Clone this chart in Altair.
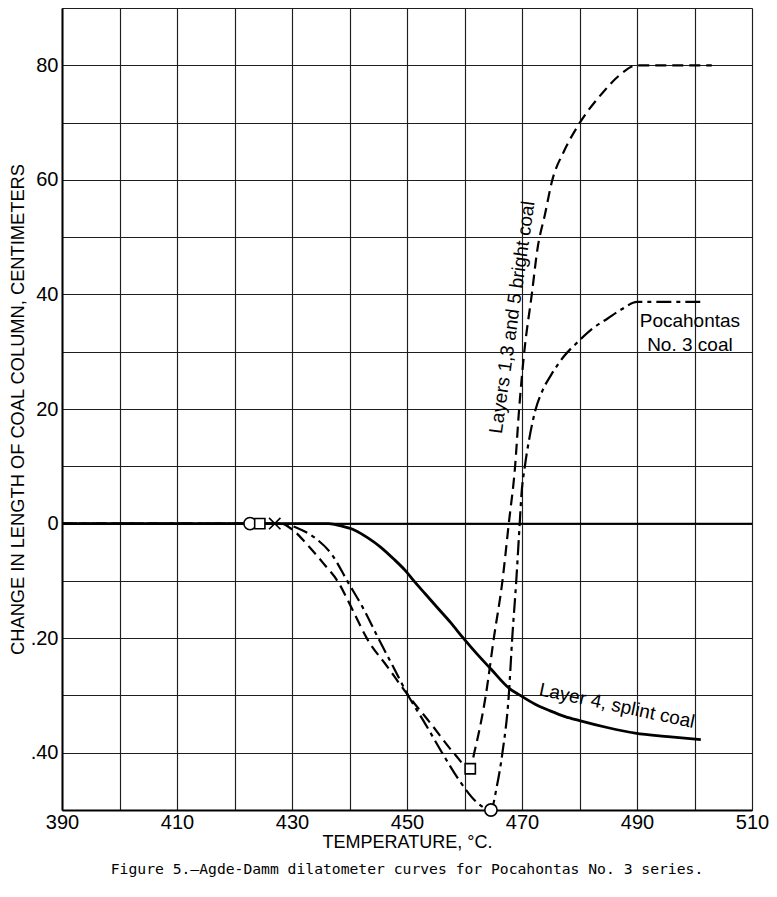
import altair as alt
import pandas as pd

# ---------------- data ----------------
# Layer 4, splint coal (solid)
l4_temp = [390, 436.4, 438.5, 441, 443.2, 445.4, 447.6, 449.8, 451.2, 453.2, 455.3, 457.6,
           459.8, 462.2, 464.6, 467.7, 469.7, 472.2, 474.9, 477.5, 480, 484.8, 489.7, 495.4, 501.1]
l4_change = [0, 0, -0.004, -0.012, -0.025, -0.041, -0.061, -0.083, -0.1, -0.123, -0.147, -0.173,
             -0.2, -0.228, -0.254, -0.287, -0.3, -0.315, -0.327, -0.337, -0.344, -0.356, -0.366, -0.372, -0.377]

# Layers 1,3 and 5 bright coal (dashed)
br_temp = [390, 428, 430, 432.5, 435.5, 437.9, 440.5, 443, 446.6, 450.2, 454.2, 458.1, 461,
           461.7, 463.7, 465.1, 466.6, 467.7, 468.8, 469.5, 470.4, 471.7, 472.7, 474, 475.2,
           477.3, 479.7, 484.1, 487, 490, 503]
br_change = [0, 0, -0.01, -0.035, -0.07, -0.1, -0.15, -0.2, -0.25, -0.3, -0.35, -0.4, -0.428,
             -0.4, -0.3, -0.2, -0.1, 0, 10, 20, 30, 40, 48, 54, 59.7,
             65, 69.4, 75.3, 78.3, 80, 80]

# Pocahontas No. 3 coal (dash-dot)
po_temp = [390, 428, 431, 434, 437, 439.6, 442.5, 445, 447.6, 450.2, 453.2, 456.1, 459.2, 462.3,
           464.6, 465.6, 466.6, 467.7, 468.3, 469, 469.6, 469.9, 470.5, 471.3, 472.3, 473.6,
           475.1, 477.3, 479.7, 482.2, 484.9, 487.5, 490, 501]
po_change = [0, 0, -0.008, -0.025, -0.055, -0.1, -0.15, -0.2, -0.25, -0.3, -0.35, -0.4, -0.45, -0.488,
             -0.5, -0.46, -0.4, -0.3, -0.2, -0.1, 0, 5, 10, 15, 19.7, 23.3,
             26, 29.2, 31.7, 34, 35.8, 37.5, 38.7, 38.7]

# point markers
mk_temp = [422.7, 424.4, 427.0, 461.0, 464.6]
mk_change = [0, 0, 0, -0.428, -0.5]
mk_shape = ["circle", "square", "M-1,-1L1,1M1,-1L-1,1", "square", "circle"]
mk_size = [150, 105, 130, 105, 150]

# axes
x_grid = [390, 400, 410, 420, 430, 440, 450, 460, 470, 480, 490, 500, 510]
x_labels = [390, 410, 430, 450, 470, 490, 510]
y_grid = [-0.5, -0.4, -0.3, -0.2, -0.1, 0, 10, 20, 30, 40, 50, 60, 70, 80, 90]
y_label_values = [80, 60, 40, 20, 0, -0.2, -0.4]
y_label_texts = ["80", "60", "40", "20", "0", ".20", ".40"]

# annotations
lab_l4 = {"t": [486.5], "v": [-0.318], "text": ["Layer 4, splint coal"]}
lab_br = {"t": [468.3], "v": [36.0], "text": ["Layers 1,3 and 5 bright coal"]}
lab_po = {"t": [499.2, 499.2], "v": [35.3, 31.2], "text": ["Pocahontas", "No. 3 coal"]}

caption = "Figure 5.\u2014Agde-Damm dilatometer curves for Pocahontas No. 3 series."

# ---------------- chart ----------------
W, H = 690, 802
FONT = "Liberation Sans"

y_label_expr = " : ".join(
    f"datum.value == {v} ? '{t}'" for v, t in zip(y_label_values, y_label_texts)
) + " : ''"
x_label_expr = " || ".join(f"datum.value == {v}" for v in x_labels) + " ? datum.label : ''"

xscale = alt.Scale(domain=[390, 510], nice=False, zero=False)
yscale = alt.Scale(domain=[-0.5, 0, 90], range=[H, H * 9 / 14, 0], nice=False, zero=False)

xaxis = alt.Axis(values=x_grid, labelExpr=x_label_expr, format="d", grid=True,
                 gridColor="#1e1e1e", gridWidth=1.15, gridOpacity=1, tickSize=0, labelPadding=2,
                 labelFont=FONT, labelFontSize=20, labelColor="black", labelFlush=False,
                 title="TEMPERATURE, \u00b0C.", titleFont=FONT, titleFontSize=18,
                 titleFontWeight="normal", titleColor="black", titlePadding=1,
                 domainColor="black", domainWidth=2)
yaxis = alt.Axis(values=y_grid, labelExpr=y_label_expr, grid=True,
                 gridColor="#1e1e1e", gridWidth=1.15, gridOpacity=1, tickSize=0, labelPadding=4,
                 labelFont=FONT, labelFontSize=20, labelColor="black", labelFlush=False,
                 title="CHANGE IN LENGTH OF COAL COLUMN, CENTIMETERS", titleFont=FONT,
                 titleFontSize=18.3, titleFontWeight="normal", titleColor="black", titlePadding=3,
                 domainColor="black", domainWidth=2)

l4_df = pd.DataFrame({"t": l4_temp, "v": l4_change})
br_df = pd.DataFrame({"t": br_temp, "v": br_change})
po_df = pd.DataFrame({"t": po_temp, "v": po_change})
mk_df = pd.DataFrame({"t": mk_temp, "v": mk_change, "shape": mk_shape, "size": mk_size})
zero_df = pd.DataFrame({"v": [0]})

grid_layer = alt.Chart(zero_df).mark_rule(color="black", strokeWidth=1.8).encode(
    y=alt.Y("v:Q", scale=yscale, axis=yaxis)
)

def xy():
    return dict(x=alt.X("t:Q", scale=xscale, axis=xaxis), y=alt.Y("v:Q", scale=yscale, axis=yaxis))

line_po = alt.Chart(po_df).mark_line(color="black", strokeWidth=2.2, strokeDash=[15, 5, 4, 5],
                                     interpolate="monotone").encode(**xy())
line_br = alt.Chart(br_df).mark_line(color="black", strokeWidth=2.2, strokeDash=[11, 6],
                                     interpolate="monotone").encode(**xy())
line_l4 = alt.Chart(l4_df).mark_line(color="black", strokeWidth=2.8,
                                     interpolate="monotone").encode(**xy())

markers = alt.Chart(mk_df).mark_point(filled=False, fill="white", fillOpacity=1, color="black",
                                      strokeWidth=1.6, opacity=1).encode(
    shape=alt.Shape("shape:N", scale=None),
    size=alt.Size("size:Q", scale=None),
    **xy(),
)

def label_layer(d, angle):
    return alt.Chart(pd.DataFrame(d)).mark_text(font=FONT, fontSize=19, color="black",
                                                align="center", baseline="middle",
                                                angle=angle).encode(text="text:N", **xy())

chart = alt.layer(
    grid_layer, line_po, line_br, line_l4, markers,
    label_layer(lab_l4, 12), label_layer(lab_br, 278), label_layer(lab_po, 0),
).properties(
    width=W, height=H,
    padding={"left": 54, "top": 0, "right": 17, "bottom": 74},
    autosize=alt.AutoSizeParams(type="none"),
    title=alt.TitleParams(text=caption, orient="bottom", anchor="middle",
                          font="DejaVu Sans Mono", fontSize=14.7, fontWeight="normal",
                          color="black", offset=11),
).configure_view(stroke="black", strokeWidth=1.5).configure(background="white")

chart.save("out.html", embed_options={"renderer": "svg", "actions": False})
